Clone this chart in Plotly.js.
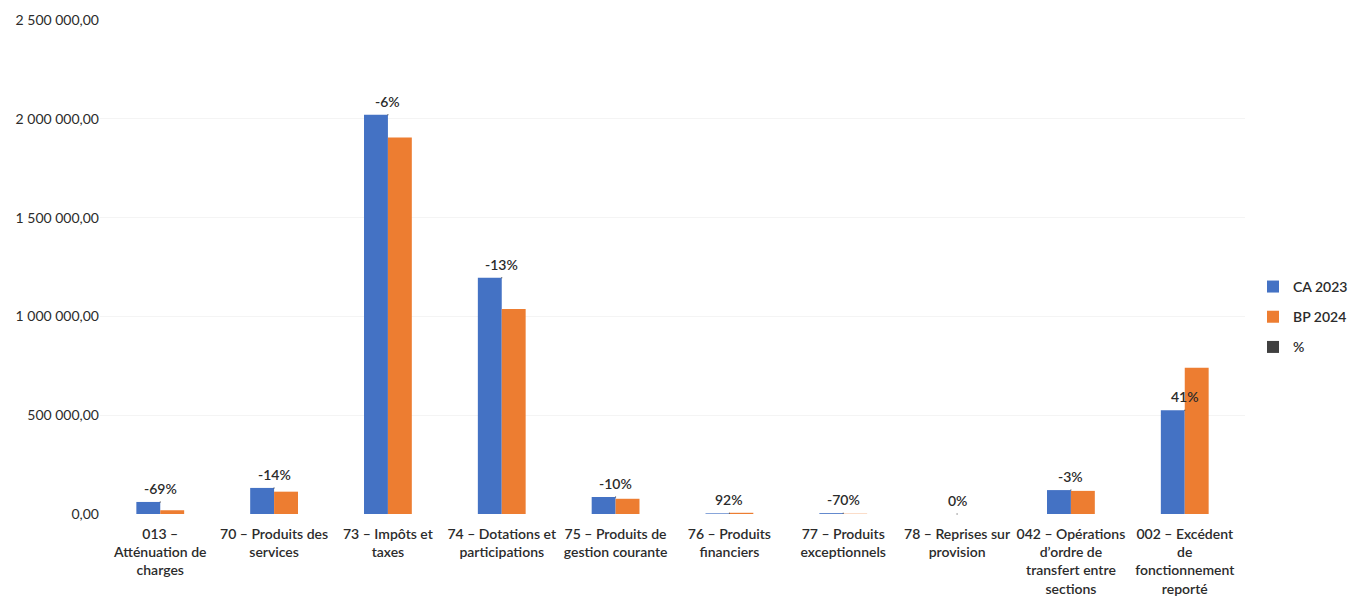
<!DOCTYPE html>
<html>
<head>
<meta charset="utf-8">
<script src="https://cdn.plot.ly/plotly-3.0.1.min.js"></script>
<style>html,body{margin:0;padding:0;background:#fff;}#chart{width:1359px;height:598px;}</style>
</head>
<body>
<div id="chart"></div>
<script>
const categories = [
  "013 –<br>Atténuation de<br>charges",
  "70 – Produits des<br>services",
  "73 – Impôts et<br>taxes",
  "74 – Dotations et<br>participations",
  "75 – Produits de<br>gestion courante",
  "76 – Produits<br>financiers",
  "77 – Produits<br>exceptionnels",
  "78 – Reprises sur<br>provision",
  "042 – Opérations<br>d’ordre de<br>transfert entre<br>sections",
  "002 – Excédent<br>de<br>fonctionnement<br>reporté"
];
const ca2023 = [61000, 132000, 2020000, 1195000, 86000, 3200, 4200, 0, 121000, 525000];
const bp2024 = [19000, 113000, 1905000, 1038000, 77000, 6100, 1300, 0, 117000, 740000];
const pctLabels = ["-69%", "-14%", "-6%", "-13%", "-10%", "92%", "-70%", "0%", "-3%", "41%"];
const yTicks = [0, 500000, 1000000, 1500000, 2000000, 2500000];

const font = "Lato, 'Open Sans', sans-serif";
const textColor = "#2b2b2b";

const traces = [
  {type: "bar", name: "CA 2023", x: categories, y: ca2023, marker: {color: "#4472C4"}, legendgroup: "a", hoverinfo: "none"},
  {type: "bar", name: "BP 2024", x: categories, y: bp2024, marker: {color: "#ED7D31"}, legendgroup: "b", hoverinfo: "none"},
  {type: "scatter", name: "%", mode: "markers", x: categories, y: ca2023,
   marker: {color: "#404040", size: 1, symbol: "square"},
   cliponaxis: false, legendgroup: "c", hoverinfo: "none"}
];

const annotations = categories.map((c, i) => ({
  x: c, y: ca2023[i], xref: "x", yref: "y",
  text: pctLabels[i], showarrow: false, yanchor: "bottom", yshift: 3,
  font: {family: font, size: 14, color: textColor, weight: 600}
}));

const layout = {
  width: 1359, height: 598,
  margin: {l: 100, r: 114, t: 20, b: 84},
  paper_bgcolor: "#ffffff", plot_bgcolor: "#ffffff",
  separators: ", ",
  barmode: "group", bargap: 0.58, bargroupgap: 0,
  font: {family: font, size: 12, color: "#404040"},
  annotations: annotations,
  xaxis: {
    type: "category", tickfont: {family: font, size: 14, color: textColor, weight: 600},
    showgrid: false, showline: false, ticks: "", zeroline: false, automargin: false,
    ticklabelstandoff: 10
  },
  yaxis: {
    range: [0, 2500000], tickvals: yTicks, tickformat: ",.2f",
    tickfont: {family: font, size: 14, color: textColor},
    showgrid: true, gridcolor: "#f4f4f4", zeroline: false, showline: false,
    ticks: "", automargin: false
  },
  showlegend: true,
  legend: {
    xref: "container", yref: "container",
    x: 0.922, y: 0.47, xanchor: "left", yanchor: "middle",
    font: {family: font, size: 14, color: textColor, weight: 600},
    itemsizing: "constant", traceorder: "grouped", tracegroupgap: 9,
    itemwidth: 30,
    bgcolor: "rgba(0,0,0,0)"
  }
};

Plotly.newPlot("chart", traces, layout, {staticPlot: true, displayModeBar: false});
</script>
</body>
</html>
